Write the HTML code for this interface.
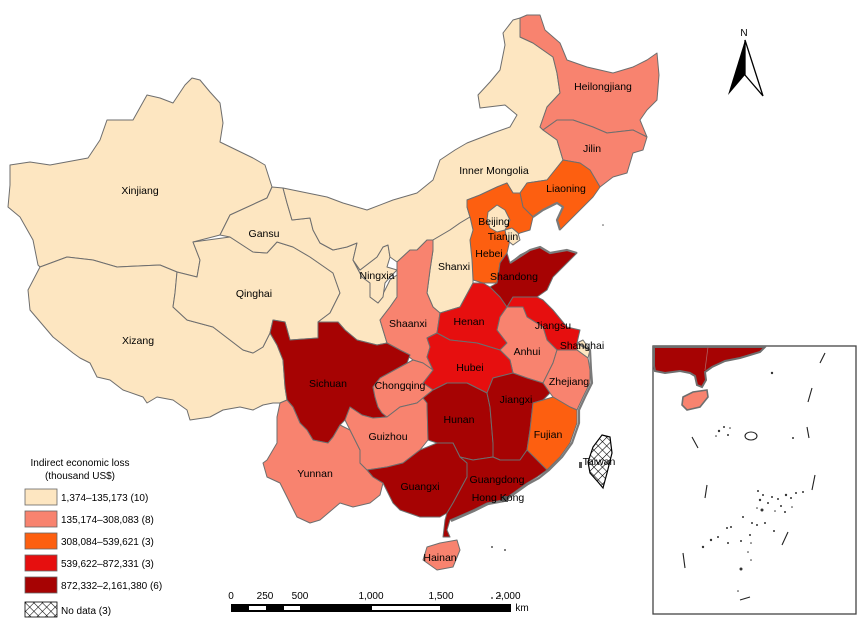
<!DOCTYPE html>
<html><head><meta charset="utf-8"><style>
html,body{margin:0;padding:0;background:#fff;}
svg{display:block;}
text{font-family:"Liberation Sans",Arial,sans-serif;fill:#000;}
</style></head><body>
<svg width="865" height="628" viewBox="0 0 865 628" xmlns="http://www.w3.org/2000/svg">
<defs>
<pattern id="hatch" width="6" height="6" patternUnits="userSpaceOnUse" patternTransform="rotate(45)">
<rect width="6" height="6" fill="#fff"/>
<line x1="0" y1="0" x2="0" y2="6" stroke="#000" stroke-width="1.1"/>
<line x1="0" y1="0" x2="6" y2="0" stroke="#000" stroke-width="1.1"/>
</pattern>
</defs>
<rect width="865" height="628" fill="#fff"/>
<g stroke="#6e6e6e" stroke-width="1" stroke-linejoin="round">
<!-- Xinjiang -->
<polygon fill="#FDE6C1" points="10,165 30,162 50,165 88,158 100,140 107,120 133,120 147,95 160,98 173,103 185,85 192,78 200,80 210,92 220,103 223,123 220,142 253,158 265,165 272,187 267,198 230,215 220,235 193,242 200,260 197,277 177,272 160,265 117,267 93,260 67,257 40,267 38,265 33,240 20,217 8,207 10,185"/>
<!-- Xizang -->
<polygon fill="#FDE6C1" points="40,267 67,257 93,260 117,267 160,265 177,272 175,293 173,307 187,320 213,327 243,350 253,353 263,347 270,333 277,345 283,360 285,387 287,400 280,403 273,403 263,405 253,410 240,407 223,410 210,417 190,420 187,410 173,400 157,397 147,403 143,397 123,390 110,380 97,377 90,363 80,358 73,353 53,337 30,310 28,290"/>
<!-- Qinghai -->
<polygon fill="#FDE6C1" points="197,277 200,260 193,242 230,237 253,252 267,253 277,242 293,247 310,257 333,273 340,293 330,313 318,322 318,338 290,340 285,322 273,320 270,333 263,347 253,353 243,350 213,327 187,320 173,307 175,293 177,272"/>
<!-- Gansu -->
<polygon fill="#FDE6C1" points="267,198 272,187 283,188 287,203 292,220 310,218 313,230 320,243 333,250 347,247 357,243 353,260 362,277 370,283 370,297 378,303 385,290 390,280 397,275 397,297 390,307 380,320 387,343 377,345 357,340 345,330 338,322 318,322 330,313 340,293 333,273 310,257 293,247 277,242 267,253 253,252 230,237 220,235 230,215"/>
<!-- Ningxia -->
<polygon fill="#FDE6C1" points="353,260 360,270 377,257 383,247 388,245 390,257 387,267 397,270 390,277 385,283 383,297 378,303 370,297 370,283 362,277"/>
<!-- Inner Mongolia -->
<polygon fill="#FDE6C1" points="283,188 327,197 343,203 367,210 393,200 417,193 433,180 440,160 455,150 467,143 493,133 510,127 517,115 505,105 480,108 478,95 490,82 500,70 505,45 503,33 513,20 520,18 520,37 533,43 553,57 557,73 560,93 547,107 540,127 543,130 557,140 563,160 547,180 527,183 520,193 513,193 507,183 497,187 480,195 467,200 467,207 470,217 460,223 450,230 433,240 427,240 417,250 410,250 397,262 390,257 388,245 383,247 377,257 360,270 353,260 357,243 347,247 333,250 320,243 313,230 310,218 292,220 287,203"/>
<!-- Heilongjiang -->
<polygon fill="#F8836F" points="520,18 527,15 540,15 545,30 560,43 567,60 587,67 613,73 633,67 647,60 657,53 659,75 657,100 647,110 640,120 647,137 633,130 607,133 593,127 573,120 557,120 543,130 540,127 547,107 560,93 557,73 553,57 533,43 520,37"/>
<!-- Jilin -->
<polygon fill="#F8836F" points="543,130 557,120 573,120 593,127 607,133 633,130 647,137 643,150 633,153 627,173 613,177 600,187 590,170 580,163 563,160 557,140"/>
<!-- Liaoning -->
<polygon fill="#FD5F10" points="520,193 527,183 547,180 563,160 580,163 590,170 600,187 593,197 580,210 570,220 560,230 557,220 563,207 557,203 543,210 533,217 523,207"/>
<!-- Hebei -->
<polygon fill="#FD5F10" points="467,200 480,195 497,187 507,183 513,193 520,193 523,207 533,217 530,230 520,233 510,240 507,253 500,263 497,283 483,283 473,280 472,260 470,240 473,230 470,217 467,207"/>
<!-- Beijing -->
<polygon fill="#FDE6C1" points="488,212 497,205 505,210 510,220 505,230 497,232 490,228 487,220"/>
<!-- Tianjin -->
<polygon fill="#FDE6C1" points="505,230 512,228 518,233 520,240 513,245 507,240"/>
<!-- Shanxi -->
<polygon fill="#FDE6C1" points="433,240 450,230 460,223 470,217 473,230 470,240 472,260 473,280 473,283 460,307 440,313 433,307 427,293 430,270 433,250"/>
<!-- Shaanxi -->
<polygon fill="#F8836F" points="410,250 417,250 427,240 433,240 433,250 430,270 427,293 433,307 440,313 437,333 427,338 430,347 427,357 433,370 423,363 413,360 400,350 387,343 380,320 390,307 397,297 397,283 397,270 397,262"/>
<!-- Henan -->
<polygon fill="#E60F0F" points="440,313 460,307 473,283 483,283 490,287 500,297 507,307 500,317 497,330 507,343 500,350 477,343 450,340 437,333"/>
<!-- Shandong -->
<polygon fill="#A60303" points="490,287 497,283 500,263 507,253 510,263 520,255 530,250 540,247 550,253 567,250 577,253 567,263 553,277 547,290 537,297 513,297 507,307 500,297"/>
<!-- Jiangsu -->
<polygon fill="#E60F0F" points="507,307 513,297 537,297 543,300 553,310 567,327 580,330 577,343 577,350 557,350 547,340 543,327 527,317 523,307"/>
<!-- Anhui -->
<polygon fill="#F8836F" points="500,317 507,307 523,307 527,317 543,327 547,340 557,350 553,363 543,383 527,378 513,373 510,360 500,350 507,343 497,330"/>
<!-- Shanghai -->
<polygon fill="#FDE6C1" points="577,343 583,340 590,350 588,358 577,350"/>
<!-- Zhejiang -->
<polygon fill="#F8836F" points="543,383 553,363 557,350 577,350 588,358 590,370 590,383 583,397 577,410 570,407 553,397 550,393"/>
<!-- Hubei -->
<polygon fill="#E60F0F" points="427,338 437,333 450,340 477,343 500,350 510,360 513,373 493,378 487,393 467,383 447,383 433,390 423,383 433,370 427,357 430,347"/>
<!-- Sichuan -->
<polygon fill="#A60303" points="273,320 285,322 290,340 318,338 318,322 338,322 345,330 357,340 377,345 387,343 400,350 410,355 407,363 400,367 380,378 373,387 375,397 378,407 382,413 387,417 373,418 362,415 350,407 345,420 340,425 333,437 328,443 313,440 307,430 300,423 293,407 287,400 285,387 283,360 277,345 270,333"/>
<!-- Chongqing -->
<polygon fill="#F8836F" points="373,387 380,378 400,367 413,360 423,363 433,370 423,383 433,390 423,398 417,403 400,407 387,417 382,413 378,407 375,397"/>
<!-- Yunnan -->
<polygon fill="#F8836F" points="280,403 287,400 293,407 300,423 307,430 313,440 328,443 333,437 340,425 350,430 360,450 360,463 367,470 373,477 383,483 380,495 370,503 353,507 340,503 320,520 310,523 297,517 290,503 280,483 267,477 263,463 267,460 277,443 277,417"/>
<!-- Guizhou -->
<polygon fill="#F8836F" points="350,430 345,420 350,407 362,415 373,418 387,417 400,407 417,403 423,398 427,403 428,440 420,450 403,463 387,467 367,470 360,463 360,450"/>
<!-- Hunan -->
<polygon fill="#A60303" points="423,398 433,390 447,383 467,383 487,393 490,407 493,443 493,457 473,460 460,457 453,443 437,443 428,440 427,403"/>
<!-- Jiangxi -->
<polygon fill="#A60303" points="487,393 493,378 513,373 527,378 543,383 550,393 543,400 533,403 530,430 527,450 520,460 500,460 493,457 493,443 490,407"/>
<!-- Fujian -->
<polygon fill="#FD5F10" points="533,403 543,400 553,397 570,407 577,410 577,423 570,443 560,457 547,470 540,463 527,450 530,430"/>
<!-- Guangxi -->
<polygon fill="#A60303" points="367,470 387,467 403,463 420,450 437,443 453,443 460,457 467,463 467,477 460,490 453,503 447,513 440,517 420,517 400,510 393,503 383,483 373,477"/>
<!-- Guangdong -->
<polygon fill="#A60303" points="460,457 473,460 493,457 500,460 520,460 527,450 540,463 547,470 537,477 527,483 513,493 503,500 487,503 473,510 457,517 450,520 447,530 450,537 443,537 445,520 447,513 453,503 460,490 467,477 467,463"/>
<!-- Hainan -->
<polygon fill="#F8836F" points="440,543 457,540 460,550 453,567 437,570 423,560 427,547"/>
</g>
<!-- coastline thick -->
<g fill="none" stroke="#7a7a7a" stroke-width="2.2" stroke-linejoin="round">
<polyline points="577,343 590,350 591,370 592,383 585,397 579,410 579,423 572,443 562,457 549,470 539,478 528,484 514,494 504,501 488,504 474,511 458,518 451,521"/>
<polyline points="533,217 543,210 557,203 563,207 557,220 560,230"/>
<polyline points="510,263 530,250 540,247 550,253 567,250 577,253"/>
</g>
<!-- small islands -->
<g fill="#555">
<rect x="502" y="496" width="6" height="6"/>
<rect x="579" y="462" width="3" height="6"/>
<circle cx="492" cy="547" r="1"/><circle cx="505" cy="550" r="1"/>
<circle cx="603" cy="225" r="0.8"/><circle cx="500" cy="596" r="1.2"/><circle cx="492" cy="598" r="1"/>
</g>
<!-- Taiwan -->
<polygon fill="url(#hatch)" stroke="#000" stroke-width="1.2" points="602,435 610,437 612,453 607,473 603,488 598,482 590,473 588,462 593,447"/>
<!-- labels -->
<g font-size="10.5" text-anchor="middle">
<text x="603" y="90">Heilongjiang</text>
<text x="592" y="152">Jilin</text>
<text x="494" y="174">Inner Mongolia</text>
<text x="566" y="192">Liaoning</text>
<text x="140" y="194">Xinjiang</text>
<text x="264" y="237">Gansu</text>
<text x="494" y="225">Beijing</text>
<text x="503" y="240">Tianjin</text>
<text x="489" y="257">Hebei</text>
<text x="454" y="270">Shanxi</text>
<text x="377" y="279">Ningxia</text>
<text x="514" y="280">Shandong</text>
<text x="254" y="297">Qinghai</text>
<text x="408" y="327">Shaanxi</text>
<text x="469" y="325">Henan</text>
<text x="553" y="329">Jiangsu</text>
<text x="138" y="344">Xizang</text>
<text x="527" y="355">Anhui</text>
<text x="582" y="349">Shanghai</text>
<text x="328" y="387">Sichuan</text>
<text x="400" y="389">Chongqing</text>
<text x="470" y="371">Hubei</text>
<text x="569" y="385">Zhejiang</text>
<text x="516" y="403">Jiangxi</text>
<text x="459" y="423">Hunan</text>
<text x="548" y="438">Fujian</text>
<text x="388" y="440">Guizhou</text>
<text x="599" y="465">Taiwan</text>
<text x="315" y="477">Yunnan</text>
<text x="420" y="490">Guangxi</text>
<text x="497" y="483">Guangdong</text>
<text x="498" y="501">Hong Kong</text>
<text x="440" y="561">Hainan</text>
</g>
<!-- north arrow -->
<text x="744" y="36" font-size="10" text-anchor="middle">N</text>
<polygon points="745,40 728,95 745,75" fill="#000"/>
<polygon points="745,40 745,75 763,96" fill="#fff" stroke="#000" stroke-width="1.3" stroke-linejoin="miter"/>
<!-- inset -->
<rect x="653" y="346" width="203" height="268" fill="#fff" stroke="#444" stroke-width="1.3"/>
<g stroke="#6e6e6e">
<polygon fill="#A60303" stroke-width="2" points="654,347 765,347 760,352 750,355 740,358 725,361 712,367 705,372 706,380 702,387 697,385 695,376 690,373 680,371 665,373 655,371 654,366"/>
<line x1="708" y1="347" x2="705" y2="370" stroke="#b06060" stroke-width="0.8"/>
<polygon fill="#F8836F" stroke-width="1.6" points="683,397 693,392 707,390 708,397 700,407 687,410 682,405"/>
</g>
<g fill="none" stroke="#222" stroke-width="1.1">
<line x1="825" y1="353" x2="820" y2="363"/>
<line x1="812" y1="388" x2="808" y2="402"/>
<line x1="807" y1="427" x2="809" y2="438"/>
<line x1="815" y1="475" x2="812" y2="490"/>
<line x1="788" y1="532" x2="782" y2="545"/>
<line x1="740" y1="600" x2="750" y2="597"/>
<line x1="683" y1="553" x2="685" y2="568"/>
<line x1="707" y1="485" x2="705" y2="498"/>
<line x1="692" y1="437" x2="698" y2="448"/>
<ellipse cx="751" cy="436" rx="6" ry="4"/>
</g>
<g fill="#333">
<circle cx="772" cy="373" r="1.2"/><circle cx="793" cy="438" r="1"/>
<circle cx="719" cy="431" r="1.2"/><circle cx="724" cy="427" r="1"/><circle cx="728" cy="435" r="1"/><circle cx="716" cy="436" r="0.8"/><circle cx="730" cy="428" r="0.8"/>
<circle cx="758" cy="491" r="1"/><circle cx="763" cy="495" r="1"/><circle cx="760" cy="500" r="1.2"/><circle cx="768" cy="503" r="1"/><circle cx="772" cy="497" r="1"/><circle cx="778" cy="499" r="1"/><circle cx="781" cy="506" r="1"/><circle cx="786" cy="495" r="1.2"/><circle cx="791" cy="498" r="1"/><circle cx="796" cy="493" r="1"/><circle cx="785" cy="512" r="1"/><circle cx="792" cy="507" r="0.8"/><circle cx="775" cy="511" r="0.8"/><circle cx="762" cy="510" r="1.5"/><circle cx="757" cy="508" r="0.8"/><circle cx="803" cy="492" r="1"/>
<circle cx="743" cy="517" r="1"/><circle cx="752" cy="523" r="1"/><circle cx="757" cy="525" r="1"/><circle cx="765" cy="523" r="1"/><circle cx="774" cy="531" r="1"/><circle cx="750" cy="535" r="1"/><circle cx="741" cy="541" r="1"/><circle cx="727" cy="528" r="1"/><circle cx="731" cy="527" r="1"/><circle cx="718" cy="537" r="1"/><circle cx="711" cy="540" r="1.2"/><circle cx="703" cy="547" r="1.2"/><circle cx="728" cy="543" r="1"/><circle cx="751" cy="543" r="0.8"/><circle cx="748" cy="552" r="0.8"/><circle cx="751" cy="560" r="0.8"/><circle cx="741" cy="569" r="1.5"/><circle cx="738" cy="591" r="0.8"/>
</g>
<!-- legend -->
<g font-size="10">
<text x="80" y="466" text-anchor="middle">Indirect economic loss</text>
<text x="80" y="479" text-anchor="middle">(thousand US$)</text>
<g stroke="#666" stroke-width="0.8">
<rect x="25" y="489" width="32" height="16" fill="#FDE6C1"/>
<rect x="25" y="511" width="32" height="16" fill="#F8836F"/>
<rect x="25" y="533" width="32" height="16" fill="#FD5F10"/>
<rect x="25" y="555" width="32" height="16" fill="#E60F0F"/>
<rect x="25" y="577" width="32" height="16" fill="#A60303"/>
<rect x="25" y="602" width="32" height="15" fill="url(#hatch)" stroke="#000"/>
</g>
<text x="61" y="501">1,374–135,173 (10)</text>
<text x="61" y="523">135,174–308,083 (8)</text>
<text x="61" y="545">308,084–539,621 (3)</text>
<text x="61" y="567">539,622–872,331 (3)</text>
<text x="61" y="589">872,332–2,161,380 (6)</text>
<text x="61" y="614">No data (3)</text>
</g>
<!-- scale bar -->
<rect x="231" y="604" width="280" height="8" fill="#000"/>
<rect x="249" y="606" width="17" height="4" fill="#fff"/>
<rect x="284" y="606" width="16" height="4" fill="#fff"/>
<rect x="372" y="606" width="68" height="4" fill="#fff"/>
<g font-size="10" text-anchor="middle">
<text x="231" y="599">0</text>
<text x="265" y="599">250</text>
<text x="300" y="599">500</text>
<text x="371" y="599">1,000</text>
<text x="441" y="599">1,500</text>
<text x="508" y="599">2,000</text>
<text x="522" y="611">km</text>
</g>
</svg>
</body></html>
